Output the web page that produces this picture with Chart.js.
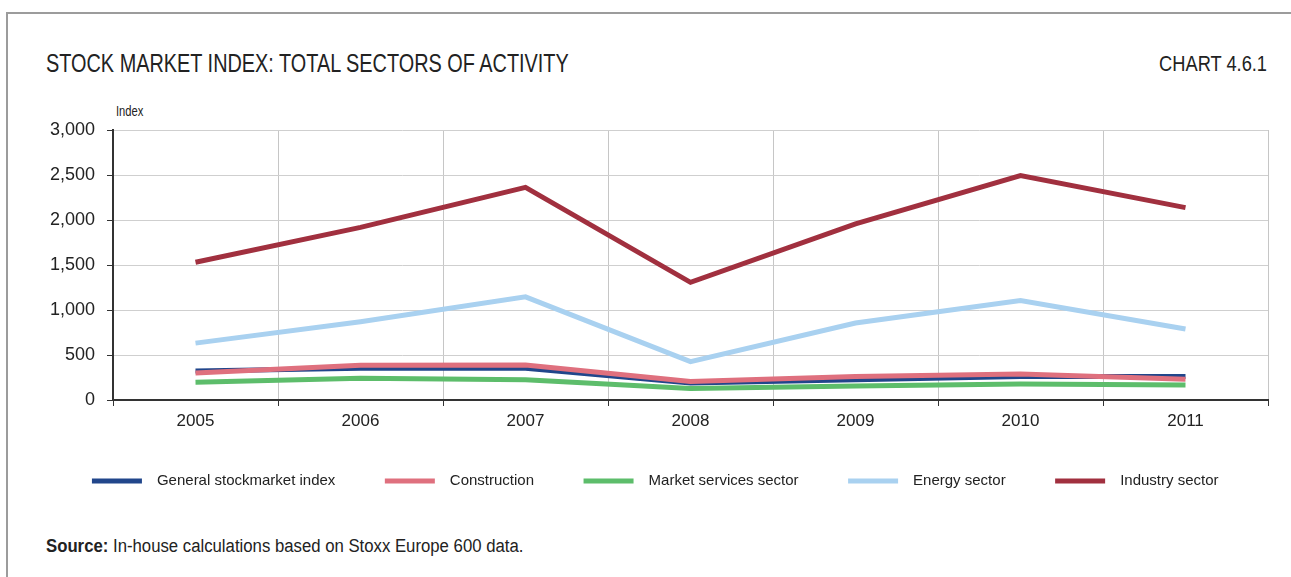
<!DOCTYPE html>
<html>
<head>
<meta charset="utf-8">
<title>Stock market index</title>
<script src="https://cdn.jsdelivr.net/npm/chart.js@4.4.1/dist/chart.umd.min.js"></script>
<style>
  body {
    margin: 0;
    width: 1291px;
    height: 577px;
    overflow: hidden;
    background: #fff;
    color: #222;
    font-family: "Liberation Sans", Arial, sans-serif;
  }
  #moldura {
    position: absolute;
    left: 6px;
    top: 12px;
    width: 1400px;
    height: 700px;
    border: 2px solid #9c9c9c;
  }
  /* texto estreito: a fonte condensada não existe, então comprime na horizontal */
  .estreito { position: absolute; white-space: nowrap; transform-origin: left top; }
  #titulo { left: 46px; top: 49px; font-size: 25px; transform: scaleX(0.795); }
  #numero { right: 24px; top: 51px; font-size: 22px; transform: scaleX(0.83); transform-origin: right top; }
  #unidade { left: 116px; top: 103px; font-size: 14px; transform: scaleX(0.8); }
  #fonte { left: 46px; top: 536px; font-size: 18px; transform: scaleX(0.93); }
  #caixa { position: absolute; left: 0; top: 90px; width: 1291px; height: 420px; }
</style>
</head>
<body>
<div id="moldura"></div>
<div id="titulo" class="estreito">STOCK MARKET INDEX: TOTAL SECTORS OF ACTIVITY</div>
<div id="numero" class="estreito">CHART 4.6.1</div>
<div id="unidade" class="estreito">Index</div>
<div id="caixa"><canvas id="graficoBolsa"></canvas></div>
<div id="fonte" class="estreito"><b>Source:</b> In-house calculations based on Stoxx Europe 600 data.</div>

<script>
const anos = ["2005", "2006", "2007", "2008", "2009", "2010", "2011"];

const indiceGeral = [322, 352, 352, 188, 224, 262, 261];
const construcao = [300, 387, 390, 205, 262, 288, 231];
const servicos = [197, 243, 224, 129, 155, 178, 167];
const energia = [632, 870, 1146, 426, 856, 1104, 789];
const industria = [1530, 1918, 2362, 1307, 1956, 2493, 2137];

const eixoMin = 0;
const eixoMax = 3000;
const eixoPasso = 500;

const fonteNumeros = { family: "Liberation Sans, Arial, sans-serif" };

function serie(nome, valores, cor, ordem) {
    return {
        label: nome,
        data: valores,
        borderColor: cor,
        backgroundColor: cor,
        borderWidth: 5,
        borderCapStyle: "butt",
        pointRadius: 0,
        pointHoverRadius: 0,
        tension: 0,
        order: ordem
    };
}

// legenda com espaço antes e depois do texto de cada item
function geraLegenda(grafico) {
    const itens = Chart.defaults.plugins.legend.labels.generateLabels(grafico);
    return itens.map((item) => ({ ...item, lineWidth: 0, text: "\u2002" + item.text + "\u2002" }));
}

const graficoBolsa = document.getElementById("graficoBolsa");
const graficoParaBolsa = new Chart(graficoBolsa, {
    type: "line",
    data: {
        labels: anos,
        datasets: [
            serie("General stockmarket index", indiceGeral, "#21468b", 5),
            serie("Construction", construcao, "#df707e", 4),
            serie("Market services sector", servicos, "#5dbd6b", 3),
            serie("Energy sector", energia, "#a9d1f0", 2),
            serie("Industry sector", industria, "#a1303f", 1)
        ]
    },
    options: {
        responsive: true,
        maintainAspectRatio: false,
        animation: false,
        layout: { padding: { top: 40, right: 23, left: 0, bottom: 11.5 } },
        plugins: {
            tooltip: { enabled: false },
            legend: {
                position: "bottom",
                align: "end",
                labels: {
                    boxWidth: 50,
                    boxHeight: 5,
                    padding: 42,
                    color: "#222",
                    font: { ...fonteNumeros, size: 15 },
                    generateLabels: geraLegenda,
                    sort: (a, b) => a.datasetIndex - b.datasetIndex
                }
            }
        },
        scales: {
            x: {
                offset: true,
                grid: { offset: true, color: "#c6c6c6", tickColor: "#333", tickLength: 6 },
                border: { color: "#333", width: 2 },
                ticks: { color: "#222", padding: 5, font: { ...fonteNumeros, size: 17 } },
                afterFit: (escala) => { escala.height = 31.5; }
            },
            y: {
                min: eixoMin,
                max: eixoMax,
                grid: { color: "#cfcfcf", tickColor: "#333", tickLength: 6 },
                border: { color: "#333", width: 2 },
                ticks: {
                    stepSize: eixoPasso,
                    color: "#222",
                    padding: 12,
                    font: { ...fonteNumeros, size: 18 },
                    callback: (valor) => valor.toLocaleString("en-US")
                },
                afterFit: (escala) => { escala.width = 113; }
            }
        }
    }
});
</script>
</body>
</html>
